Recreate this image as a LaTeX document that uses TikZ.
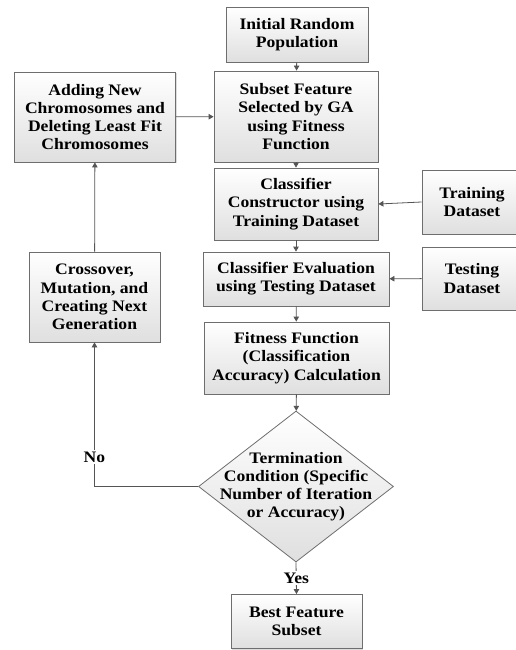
\documentclass[tikz,border=0pt]{standalone}
\usepackage{fontspec}
\setmainfont[FakeStretch=1.1]{Liberation Serif}
\usetikzlibrary{shapes.geometric,arrows.meta,shadows}
\definecolor{lc}{HTML}{555555}
\definecolor{bc}{HTML}{6E6E6E}
\tikzset{
  box/.style={draw=bc, line width=0.8pt, top color=white, bottom color=gray!25,
    drop shadow={shadow xshift=1.2pt, shadow yshift=-1.2pt, fill=gray!45, opacity=0.6},
    align=center, inner sep=0pt, font=\bfseries\fontsize{16}{18.2}\selectfont},
  decision/.style={diamond, draw=bc, line width=0.8pt, top color=white, bottom color=gray!25,
    inner sep=0pt},
  txt/.style={align=center, font=\bfseries\fontsize{16}{18.2}\selectfont},
  arr/.style={draw=lc, line width=0.8pt, -{Triangle[length=5pt,width=5.5pt]}},
  lbl/.style={fill=white, inner sep=1.5pt, font=\bfseries\fontsize{16}{18.2}\selectfont}
}
\begin{document}
\begin{tikzpicture}[x=1pt,y=-1pt]
\useasboundingbox (0,0) rectangle (516,650);
\node[box, minimum width=142pt, minimum height=55pt] (init) at (297,34.5) {Initial Random\\Population};
\node[box, minimum width=164pt, minimum height=91pt] (subset) at (296,116.5) {Subset Feature\\Selected by GA\\using Fitness\\Function};
\node[box, minimum width=164pt, minimum height=72pt] (constr) at (296,204) {Classifier\\Constructor using\\Training Dataset};
\node[box, minimum width=100pt, minimum height=64pt] (train) at (472,202) {Training\\Dataset};
\node[box, minimum width=186pt, minimum height=54pt] (eval) at (296,279) {Classifier Evaluation\\using Testing Dataset};
\node[box, minimum width=100pt, minimum height=63pt] (test) at (472,278.5) {Testing\\Dataset};
\node[box, minimum width=185pt, minimum height=72pt] (fit) at (296.5,358) {Fitness Function\\(Classification\\Accuracy) Calculation};
\node[decision, minimum width=195pt, minimum height=151pt] (dec) at (296,486.5) {};
\node[txt] (dectxt) at (296,486.5) {Termination\\Condition (Specific\\Number of Iteration\\or Accuracy)};
\node[box, minimum width=131pt, minimum height=54pt] (best) at (296.5,621.5) {Best Feature\\Subset};
\node[box, minimum width=161pt, minimum height=90pt] (adding) at (95,117) {Adding New\\Chromosomes and\\Deleting Least Fit\\Chromosomes};
\node[box, minimum width=131pt, minimum height=90pt] (cross) at (94.5,297) {Crossover,\\Mutation, and\\Creating Next\\Generation};

\draw[arr] (init) -- (subset);
\draw[arr] (subset) -- (constr);
\draw[arr] (constr) -- (eval);
\draw[arr] (eval) -- (fit);
\draw[arr] (fit) -- (dec);
\draw[arr] (dec.south) -- node[lbl] (yes) {Yes} (best.north);
\draw[arr] (dec.west) -| (cross.south);
\node[lbl] (no) at (94.5,457) {No};
\draw[arr] (cross) -- (adding);
\draw[arr] (adding) -- (subset);
\draw[arr] (train.west) -- (constr.east);
\draw[arr] (test) -- (eval);
\end{tikzpicture}
\end{document}
